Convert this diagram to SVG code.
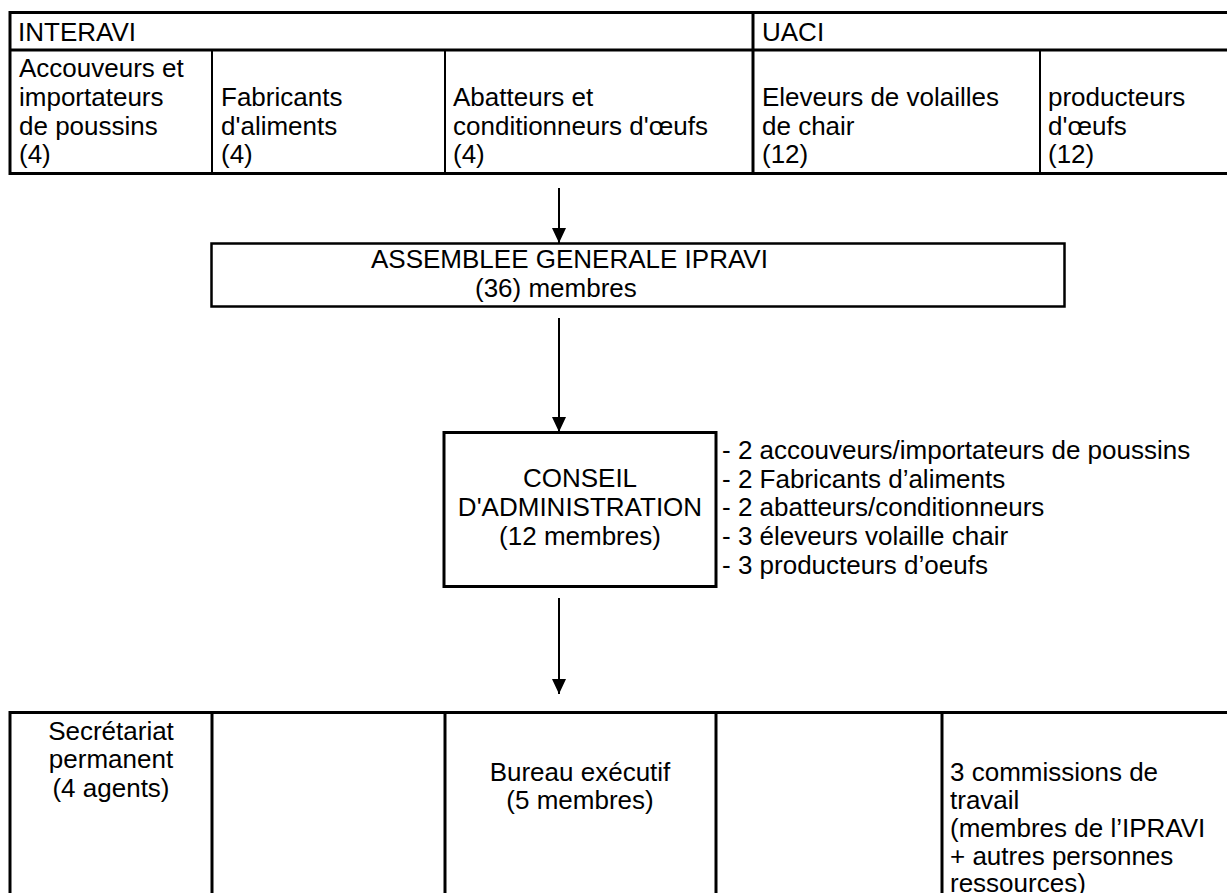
<svg xmlns="http://www.w3.org/2000/svg" width="1227" height="893" viewBox="0 0 1227 893">
<defs>
<marker id="ah" markerUnits="userSpaceOnUse" markerWidth="15" markerHeight="14" refX="15" refY="7" orient="auto" viewBox="0 0 15 14">
<path d="M0,0 L15,7 L0,14 Z" fill="#000"/>
</marker>
</defs>
<style>
text{font-family:"Liberation Sans",Arial,sans-serif;font-size:26px;fill:#000}
.c{text-anchor:middle}
.b{fill:none;stroke:#000;stroke-width:2.5}
.t{fill:none;stroke:#000;stroke-width:3}
.th{stroke:#000;stroke-width:2}
.cn{stroke:#000;stroke-width:2;fill:none}
</style>
<rect width="1227" height="893" fill="#fff"/>
<g id="top-table">
<line class="t" x1="10" y1="12.5" x2="1227" y2="12.5"/>
<line class="t" x1="10" y1="50" x2="1227" y2="50"/>
<line class="t" x1="10" y1="173.5" x2="1227" y2="173.5"/>
<line class="t" x1="10" y1="11" x2="10" y2="175"/>
<line class="th" x1="212" y1="50" x2="212" y2="173.5"/>
<line class="th" x1="445" y1="50" x2="445" y2="173.5"/>
<line class="t" x1="753" y1="12.5" x2="753" y2="173.5"/>
<line class="th" x1="1040" y1="50" x2="1040" y2="173.5"/>
</g>
<g id="interavi"><text x="18" y="41">INTERAVI</text></g>
<g id="uaci"><text x="762" y="41">UACI</text></g>
<g id="accouveurs"><text x="19" y="77">Accouveurs et</text><text x="19" y="106">importateurs</text><text x="19" y="135">de poussins</text><text x="19" y="163">(4)</text></g>
<g id="fabricants"><text x="221" y="106">Fabricants</text><text x="221" y="135">d'aliments</text><text x="221" y="163">(4)</text></g>
<g id="abatteurs"><text x="453" y="106">Abatteurs et</text><text x="453" y="135">conditionneurs d'œufs</text><text x="453" y="163">(4)</text></g>
<g id="eleveurs"><text x="762" y="106">Eleveurs de volailles</text><text x="762" y="135">de chair</text><text x="762" y="163">(12)</text></g>
<g id="producteurs"><text x="1048" y="106">producteurs</text><text x="1048" y="135">d'œufs</text><text x="1048" y="163">(12)</text></g>
<g id="assemblee">
<rect class="b" x="211.5" y="243.5" width="853" height="63"/>
<text x="371" y="268">ASSEMBLEE GENERALE IPRAVI</text>
<text x="475" y="297">(36) membres</text>
</g>
<g id="conseil">
<rect class="t" x="444" y="432.5" width="272" height="154"/>
<text class="c" x="580" y="487">CONSEIL</text>
<text class="c" x="580" y="516">D'ADMINISTRATION</text>
<text class="c" x="580" y="545">(12 membres)</text>
</g>
<g id="conseil-list">
<text x="722" y="459">- 2 accouveurs/importateurs de poussins</text>
<text x="722" y="488">- 2 Fabricants d’aliments</text>
<text x="722" y="516">- 2 abatteurs/conditionneurs</text>
<text x="722" y="545">- 3 éleveurs volaille chair</text>
<text x="722" y="574">- 3 producteurs d’oeufs</text>
</g>
<g id="bottom-table">
<line class="t" x1="10" y1="712.5" x2="1227" y2="712.5"/>
<line class="t" x1="10" y1="711" x2="10" y2="893"/>
<line class="t" x1="212" y1="712.5" x2="212" y2="893"/>
<line class="t" x1="445" y1="712.5" x2="445" y2="893"/>
<line class="t" x1="716" y1="712.5" x2="716" y2="893"/>
<line class="t" x1="942" y1="712.5" x2="942" y2="893"/>
</g>
<g id="secretariat"><text class="c" x="111" y="740">Secrétariat</text><text class="c" x="111" y="768">permanent</text><text class="c" x="111" y="797">(4 agents)</text></g>
<g id="bureau"><text class="c" x="580" y="781">Bureau exécutif</text><text class="c" x="580" y="809">(5 membres)</text></g>
<g id="commissions"><text x="950" y="781">3 commissions de</text><text x="950" y="809">travail</text><text x="950" y="837">(membres de l’IPRAVI</text><text x="950" y="865">+ autres personnes</text><text x="950" y="892">ressources)</text></g>
<g id="connectors">
<line class="cn" x1="559" y1="188" x2="559" y2="243" marker-end="url(#ah)"/>
<line class="cn" x1="559" y1="318" x2="559" y2="432" marker-end="url(#ah)"/>
<line class="cn" x1="559" y1="598" x2="559" y2="694" marker-end="url(#ah)"/>
</g>
</svg>
